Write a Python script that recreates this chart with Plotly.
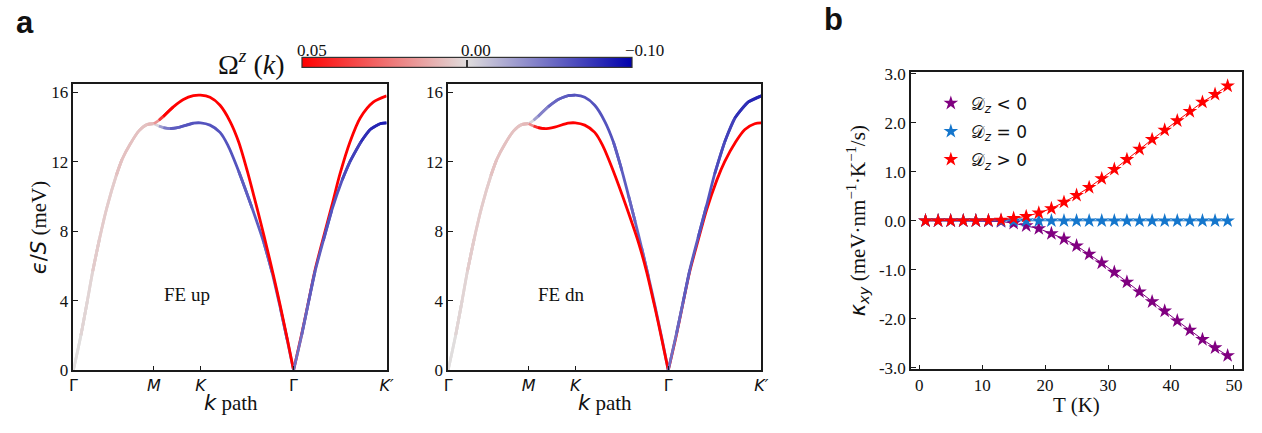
import plotly.graph_objects as go
from plotly.colors import sample_colorscale

W, H = 1262, 433
SERIF = "Liberation Serif, Times New Roman, serif"
SANS = "DejaVu Sans, sans-serif"
AXCOL = "#1a1a1a"

# ---------------- panel a: magnon bands along the k path ----------------
k_nodes = [0.0, 3.628, 5.722, 9.911, 14.1]
k_labels = ["Γ", "<i>M</i>", "<i>K</i>", "Γ", "<i>K′</i>"]
e_ticks = [0, 4, 8, 12, 16]
K_GAMMA2 = k_nodes[3]

# Γ -> M (both bands degenerate)
k_gm = [0.0, 0.34, 0.63, 0.87, 1.17, 1.51, 1.93, 2.19, 2.57, 2.95, 3.33, 3.628]
e_gm = [0.0, 2.02, 4.0, 5.69, 7.53, 9.37, 11.2, 12.12, 13.04, 13.77, 14.14, 14.18]
om_gm = [0.0, 0.001, 0.002, 0.003, 0.004, 0.005, 0.005, 0.006, 0.006, 0.006, 0.007, 0.008]

# upper band, M -> K -> Γ -> K'
k_up = [3.85, 4.05, 4.50, 4.95, 5.40, 5.722, 6.15, 6.60, 7.05, 7.44, 7.82, 8.12, 8.42,
        8.72, 9.02, 9.32, 9.62, 9.911, 10.28, 10.58, 10.88, 11.25, 11.63, 12.0, 12.45,
        12.91, 13.51, 14.1]
e_up = [14.38, 14.6, 15.15, 15.57, 15.79, 15.82, 15.70, 15.24, 14.32, 13.13, 11.5, 10.05,
        8.55, 7.0, 5.38, 3.66, 1.85, 0.0, 2.11, 3.94, 5.78, 7.62, 9.45, 11.29, 13.13,
        14.51, 15.43, 15.78]

# lower band, M -> K -> Γ -> K'
k_lo = [3.85, 4.05, 4.35, 4.80, 5.40, 5.722, 6.15, 6.60, 6.95, 7.44, 8.04, 8.57, 8.94,
        9.32, 9.62, 9.911, 10.28, 10.58, 10.88, 11.25, 11.63, 12.1, 12.45, 12.94, 13.36,
        13.8, 14.1]
e_lo = [14.05, 13.96, 13.90, 13.99, 14.21, 14.23, 14.10, 13.68, 12.95, 11.45, 9.35, 7.35,
        5.65, 3.55, 1.78, 0.0, 2.05, 3.9, 5.7, 7.45, 9.2, 10.95, 12.0, 13.13, 13.85, 14.18,
        14.23]

# Berry curvature Ω^z(k) on each band, FE up
om_up_feup = [0.025, 0.05, 0.05, 0.05, 0.05, 0.05, 0.05, 0.05, 0.05, 0.05, 0.05, 0.05,
              0.05, 0.05, 0.05, 0.05, 0.05, 0.05, 0.05, 0.05, 0.05, 0.05, 0.05, 0.05,
              0.05, 0.05, 0.05, 0.05]
om_lo_feup = [-0.02, -0.04, -0.055, -0.06, -0.062, -0.062, -0.062, -0.062, -0.062, -0.06,
              -0.058, -0.056, -0.054, -0.052, -0.05, -0.05, -0.052, -0.055, -0.058, -0.06,
              -0.063, -0.066, -0.07, -0.075, -0.08, -0.085, -0.086]
# FE dn
om_up_fedn = [-0.02, -0.035, -0.05, -0.055, -0.06, -0.062, -0.062, -0.062, -0.062, -0.06,
              -0.058, -0.056, -0.054, -0.052, -0.05, -0.05, -0.05, -0.05, -0.052, -0.055,
              -0.058, -0.06, -0.063, -0.066, -0.07, -0.075, -0.082, -0.086]
om_lo_fedn = [0.03, 0.05, 0.05, 0.05, 0.05, 0.05, 0.05, 0.05, 0.05, 0.05, 0.05, 0.05, 0.05,
              0.05, 0.05, 0.05, 0.05, 0.05, 0.05, 0.05, 0.05, 0.05, 0.05, 0.05, 0.05, 0.05,
              0.05]

om_max, om_min = 0.05, -0.10
cbar_vals = [0.05, 0.0, -0.10]
cbar_text = ["0.05", "0.00", "−0.10"]
cscale = [[0.0, "rgb(255,0,0)"], [0.5, "rgb(224,221,221)"], [1.0, "rgb(0,0,172)"]]

# ---------------- panel b: thermal Hall conductivity ----------------
T = [1, 3, 5, 7, 9, 11, 13, 15, 17, 19, 21, 23, 25, 27, 29, 31, 33, 35, 37, 39, 41, 43,
     45, 47, 49]
kxy_neg = [0.0, 0.0, 0.0, 0.0, 0.0, -0.005, -0.015, -0.05, -0.10, -0.16, -0.26, -0.37,
           -0.51, -0.68, -0.86, -1.05, -1.25, -1.45, -1.65, -1.84, -2.04, -2.23, -2.42,
           -2.59, -2.75]
kxy_zero = [0.0] * 25
kxy_pos = [0.0, 0.0, 0.0, 0.0, 0.0, 0.005, 0.015, 0.05, 0.09, 0.16, 0.25, 0.38, 0.52,
           0.68, 0.86, 1.05, 1.25, 1.46, 1.66, 1.85, 2.04, 2.23, 2.42, 2.58, 2.75]
b_yticks = [3.0, 2.0, 1.0, 0.0, -1.0, -2.0, -3.0]
b_yticktext = ["3.0", "2.0", "1.0", "0.0", "-1.0", "-2.0", "-3.0"]
b_xticks = [0, 10, 20, 30, 40, 50]
series_b = [
    ("𝒟<sub><i>z</i></sub> &lt; 0", kxy_neg, "rgb(128,0,128)"),
    ("𝒟<sub><i>z</i></sub> = 0", kxy_zero, "rgb(20,118,204)"),
    ("𝒟<sub><i>z</i></sub> &gt; 0", kxy_pos, "rgb(255,0,0)"),
]


def om_to_u(om):
    # two-slope normalisation: 0.05 -> 0, 0 -> 0.5, -0.10 -> 1
    if om >= 0:
        u = 0.5 * (1 - om / om_max)
    else:
        u = 0.5 + 0.5 * (om / om_min)
    return min(1.0, max(0.0, u))


def band_runs(ks, es, oms, breaks, nlev=48):
    """Split a band into runs of (almost) equal colour; cusps in `breaks` end a run.
    Each run overlaps the next one by a segment so that joints stay closed."""
    n = len(ks)
    lev = [round(om_to_u(0.5 * (oms[j] + oms[j + 1])) * nlev) for j in range(n - 1)]
    runs = []
    a = 0
    for j in range(1, n - 1):
        if lev[j] != lev[a] or ks[j] in breaks:
            runs.append((a, j, lev[a]))
            a = j
    runs.append((a, n - 1, lev[a]))
    out = []
    for a, b, lv in runs:
        if b < n - 1 and ks[b] not in breaks:
            b += 1
        col = sample_colorscale(cscale, [lv / nlev])[0]
        out.append(dict(x=ks[a:b + 1], y=es[a:b + 1], color=col, u=lv / nlev,
                        k0=ks[a]))
    return out


def run_trace(r, xa, ya):
    return go.Scatter(x=r["x"], y=r["y"], mode="lines", xaxis=xa, yaxis=ya,
                      line=dict(color=r["color"], width=2.8, shape="spline",
                                smoothing=0.8),
                      showlegend=False, hoverinfo="skip")


fig = go.Figure()

cusps = [k_nodes[1], K_GAMMA2]
for xa, ya, om_u, om_l in [("x", "y", om_up_feup, om_lo_feup),
                           ("x2", "y2", om_up_fedn, om_lo_fedn)]:
    runs = (band_runs(k_gm + k_up, e_gm + e_up, om_gm + om_u, cusps)
            + band_runs(k_gm + k_lo, e_gm + e_lo, om_gm + om_l, cusps))

    def rank(r):
        if r["k0"] < k_nodes[1]:
            return 0          # shared Γ-M branch
        if r["u"] > 0.5 and r["k0"] < K_GAMMA2:
            return 1          # bluish branch before Γ
        if r["u"] <= 0.5:
            return 2          # reddish branch
        return 3              # bluish branch after Γ
    for r in sorted(runs, key=rank):
        fig.add_trace(run_trace(r, xa, ya))

# colour bar for Ω^z(k)
fig.add_trace(go.Scatter(
    x=[None], y=[None], mode="markers", xaxis="x", yaxis="y", showlegend=False,
    marker=dict(color=[0.5], cmin=0, cmax=1, colorscale=cscale, showscale=True,
                colorbar=dict(orientation="h", x=467 / W, xanchor="center",
                              y=1 - 62 / H, yanchor="middle", lenmode="pixels", len=330,
                              thickness=10, xpad=0, ypad=0, outlinewidth=1.2,
                              outlinecolor="#333", tickmode="array",
                              tickvals=[om_to_u(0.0)], ticks="inside", ticklen=8,
                              tickwidth=1.6, tickcolor="#333", showticklabels=False))))

for name, vals, col in series_b:
    fig.add_trace(go.Scatter(x=T, y=vals, mode="lines", legendgroup=name,
                             showlegend=False, xaxis="x3", yaxis="y3",
                             line=dict(color=col, width=1), hoverinfo="skip"))
    fig.add_trace(go.Scatter(x=T, y=vals, mode="markers", name=name,
                             legendgroup=name, xaxis="x3", yaxis="y3",
                             marker=dict(symbol="star", size=11, color=col)))

axis_common = dict(showline=True, mirror=True, linecolor=AXCOL, linewidth=1.5,
                   showgrid=False, zeroline=False, ticks="inside", ticklen=5,
                   tickwidth=1.2, tickcolor=AXCOL)

ydom_a = [1 - 378 / H, 1 - 79 / H]
for i, (x0, x1) in enumerate([(70, 386), (448, 764)]):
    sfx = "" if i == 0 else "2"
    fig.update_layout(**{
        "xaxis" + sfx: dict(axis_common, domain=[x0 / W, x1 / W], range=[0, 14.1],
                            tickmode="array", tickvals=k_nodes, ticktext=k_labels,
                            tickfont=dict(family=SANS, size=16, color="#111"),
                            anchor="y" + sfx),
        "yaxis" + sfx: dict(axis_common, domain=ydom_a, range=[0, 16.48],
                            tickmode="array", tickvals=e_ticks,
                            tickfont=dict(family=SERIF, size=17, color="#111"),
                            anchor="x" + sfx),
    })

fig.update_layout(
    xaxis3=dict(axis_common, domain=[915 / W, 1249 / W], range=[-1.3, 51.3],
                tickmode="array", tickvals=b_xticks,
                tickfont=dict(family=SERIF, size=17, color="#111"), anchor="y3"),
    yaxis3=dict(axis_common, domain=[1 - 377 / H, 1 - 67 / H], range=[-3.03, 3.03],
                tickmode="array", tickvals=b_yticks, ticktext=b_yticktext,
                tickfont=dict(family=SERIF, size=17, color="#111"), anchor="x3"),
)

ann = []


def add_text(x, y, text, size, family=SERIF, angle=0, xanchor="center"):
    ann.append(dict(x=x / W, y=1 - y / H, xref="paper", yref="paper", text=text,
                    showarrow=False, textangle=angle, xanchor=xanchor, yanchor="middle",
                    font=dict(family=family, size=size, color="#111")))


add_text(21, 15, "<b>a</b>", 31, family="Liberation Sans, Arial, sans-serif")
add_text(837, 12, "<b>b</b>", 31, family="Liberation Sans, Arial, sans-serif")
add_text(250, 57, "Ω<sup><i>z</i></sup> (<i>k</i>)", 28)
for v, t, xc in zip(cbar_vals, cbar_text, [311, 476, 646]):
    add_text(xc, 44, t, 17)
add_text(185, 299, "FE up", 19)
add_text(562, 299, "FE dn", 19)
add_text(36, 229, "<span style='font-family:DejaVu Sans'><i>ϵ</i>/<i>S</i></span> (meV)",
         21, angle=-90)
for xc in (229, 606):
    add_text(xc, 412, "<span style='font-family:DejaVu Sans'><i>k</i></span> path", 21)
add_text(1082, 414, "T (K)", 21)
add_text(861, 222, "<span style='font-family:DejaVu Sans'><i>κ<sub>xy</sub></i></span>"
         " (meV·nm<sup>−1</sup>·K<sup>−1</sup>/s)", 21, angle=-90)

fig.update_layout(
    width=W, height=H, margin=dict(l=0, r=0, t=0, b=0),
    paper_bgcolor="white", plot_bgcolor="white",
    annotations=ann,
    showlegend=True,
    legend=dict(x=935 / W, y=1 - 81 / H, xanchor="left", yanchor="top",
                bgcolor="rgba(0,0,0,0)", font=dict(family=SANS, size=17, color="#111"),
                tracegroupgap=3),
)

fig.write_html("out.html")
